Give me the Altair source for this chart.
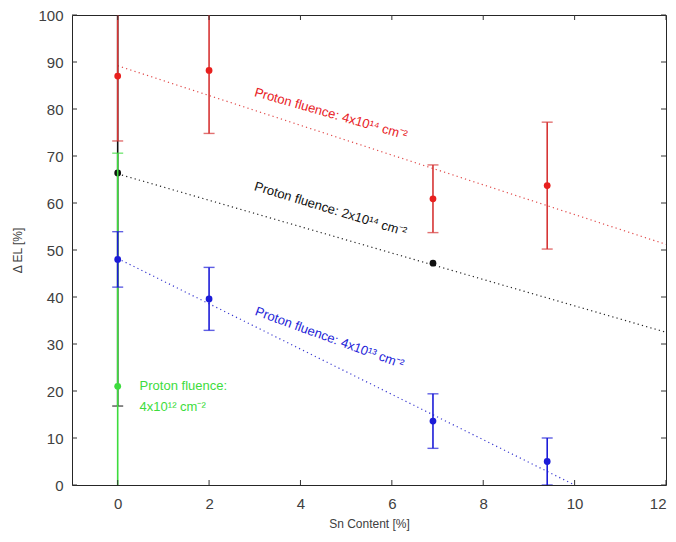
import altair as alt
import pandas as pd

# ---- data ----
red_x = [0, 2, 6.9, 9.4]
red_y = [87.0, 88.2, 60.9, 63.7]
red_err = [13.8, 13.4, 7.2, 13.5]

black_x = [0, 6.9]
black_y = [66.4, 47.2]
black_err = [49.6, 0.0]

green_x = [0]
green_y = [21.0]
green_err = [49.6]

blue_x = [0, 2, 6.9, 9.4]
blue_y = [48.0, 39.6, 13.6, 5.0]
blue_err = [5.9, 6.7, 5.8, 5.0]

# dotted fit lines (end points)
red_fit_x = [0, 12]
red_fit_y = [89.2, 51.2]
black_fit_x = [0, 12]
black_fit_y = [66.2, 32.5]
blue_fit_x = [0, 10.0]
blue_fit_y = [48.2, 0.0]

x_ticks = [0, 2, 4, 6, 8, 10, 12]
y_ticks = [0, 10, 20, 30, 40, 50, 60, 70, 80, 90, 100]

RED = "#e8201e"
RED_BAR = "#d63434"
BLACK = "#111111"
GREEN = "#3ddc3d"
BLUE = "#1c1cd8"

W, H = 594, 470
FONT = "Liberation Sans"
LABEL_COL = "#404040"

xs = alt.Scale(domain=[-1, 12], nice=False, zero=False)
ys = alt.Scale(domain=[0, 100], nice=False)


def series_df(xv, yv, ev):
    return pd.DataFrame({"x": xv, "y": yv, "lo": [a - b for a, b in zip(yv, ev)],
                         "hi": [a + b for a, b in zip(yv, ev)], "e": ev})


def errlayers(df, color, bar_color=None):
    bc = bar_color or color
    d = df[df["e"] > 0]
    bars = alt.Chart(d).mark_rule(color=bc, strokeWidth=1.6, clip=True).encode(
        x=alt.X("x:Q", scale=xs), y=alt.Y("lo:Q", scale=ys), y2="hi:Q")
    caps_lo = alt.Chart(d).mark_tick(color=bc, orient="horizontal", size=11,
                                     thickness=1.4, clip=True).encode(
        x=alt.X("x:Q", scale=xs), y=alt.Y("lo:Q", scale=ys))
    caps_hi = alt.Chart(d).mark_tick(color=bc, orient="horizontal", size=11,
                                     thickness=1.4, clip=True).encode(
        x=alt.X("x:Q", scale=xs), y=alt.Y("hi:Q", scale=ys))
    pts = alt.Chart(df).mark_circle(color=color, size=46, opacity=1, clip=True).encode(
        x=alt.X("x:Q", scale=xs), y=alt.Y("y:Q", scale=ys))
    return [bars, caps_lo, caps_hi, pts]


def fit(xv, yv, color):
    return alt.Chart(pd.DataFrame({"x": xv, "y": yv})).mark_line(
        color=color, strokeDash=[1.2, 3.2], strokeWidth=1.2, clip=True).encode(
        x=alt.X("x:Q", scale=xs), y=alt.Y("y:Q", scale=ys))


# axes carriers (labels only; ticks drawn inward below)
base = alt.Chart(pd.DataFrame({"x": [0], "y": [0]})).mark_point(opacity=0).encode(
    x=alt.X("x:Q", scale=xs, title="Sn Content [%]",
            axis=alt.Axis(values=x_ticks, tickSize=0, domain=False, grid=False,
                          labelFontSize=15, labelColor=LABEL_COL, labelFont=FONT,
                          labelPadding=11, titleFont=FONT, titleFontSize=12,
                          titleFontWeight="normal", titleColor=LABEL_COL,
                          titlePadding=7)),
    y=alt.Y("y:Q", scale=ys, title="Δ EL [%]",
            axis=alt.Axis(values=y_ticks, tickSize=0, domain=False, grid=False,
                          labelFontSize=15, labelColor=LABEL_COL, labelFont=FONT,
                          labelPadding=9, titleFont=FONT, titleFontSize=12,
                          titleFontWeight="normal", titleColor=LABEL_COL,
                          titlePadding=13)),
)

xt = pd.DataFrame({"t": x_ticks})
yt = pd.DataFrame({"t": y_ticks})
tick_col = "#333333"
tb = alt.Chart(xt).mark_rule(color=tick_col).encode(
    x=alt.X("t:Q", scale=xs), y=alt.value(H), y2=alt.value(H - 5))
tt = alt.Chart(xt).mark_rule(color=tick_col).encode(
    x=alt.X("t:Q", scale=xs), y=alt.value(0), y2=alt.value(5))
tl = alt.Chart(yt).mark_rule(color=tick_col).encode(
    y=alt.Y("t:Q", scale=ys), x=alt.value(0), x2=alt.value(5))
tr = alt.Chart(yt).mark_rule(color=tick_col).encode(
    y=alt.Y("t:Q", scale=ys), x=alt.value(W), x2=alt.value(W - 5))


def label(txt, x, y, color, angle=0):
    kw = dict(align="left", baseline="middle", font=FONT, fontSize=13, color=color)
    if angle:
        kw["angle"] = angle
    return alt.Chart(pd.DataFrame({"x": [x], "y": [y], "t": [txt]})).mark_text(**kw).encode(
        x=alt.X("x:Q", scale=xs), y=alt.Y("y:Q", scale=ys), text="t:N")


labels = [
    label("Proton fluence: 4x10¹⁴ cm⁻²", 3.0, 83.6, RED, 16),
    label("Proton fluence: 2x10¹⁴ cm⁻²", 3.0, 63.6, BLACK, 17),
    label("Proton fluence: 4x10¹³ cm⁻²", 3.02, 37.0, BLUE, 20),
    label("Proton fluence:", 0.48, 21.0, GREEN),
    label("4x10¹² cm⁻²", 0.48, 16.6, GREEN),
]

layers = [base, fit(red_fit_x, red_fit_y, "#e04848"), fit(black_fit_x, black_fit_y, "#222222"),
          fit(blue_fit_x, blue_fit_y, "#3a3ad0")]
layers += errlayers(series_df(black_x, black_y, black_err), BLACK)
layers += errlayers(series_df(green_x, green_y, green_err), GREEN)
layers += errlayers(series_df(red_x, red_y, red_err), RED, RED_BAR)
layers += errlayers(series_df(blue_x, blue_y, blue_err), BLUE)
layers += [tb, tt, tl, tr] + labels

chart = alt.layer(*layers).properties(
    width=W, height=H,
    padding={"left": 72, "top": 15, "right": 10, "bottom": 57},
    autosize=alt.AutoSizeParams(type="none"),
    background="white",
).configure_view(stroke="#262626", strokeWidth=1)

chart.save("out.html", embed_options={"renderer": "svg", "actions": False})
